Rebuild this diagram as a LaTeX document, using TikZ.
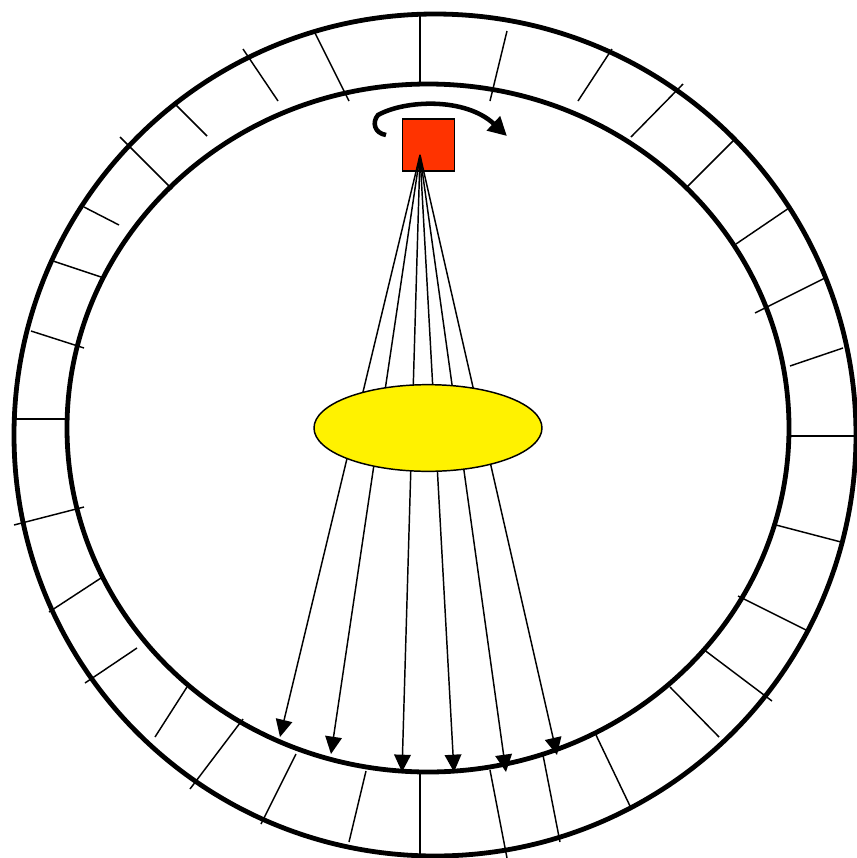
\documentclass[tikz,border=0pt]{standalone}
\usepackage{xcolor}
\usetikzlibrary{shapes.geometric, arrows.meta}

\definecolor{camred}{RGB}{255,51,0}
\definecolor{camtop}{RGB}{255,128,96}

\begin{document}
\begin{tikzpicture}[
  x=0.75pt, y=-0.75pt,
  ring/.style={line width=3.6pt},
  spoke/.style={line width=1.5pt},
  tick/.style={line width=1.1pt},
  ray/.style={line width=1.1pt, -{Triangle[length=13pt, width=12.5pt]}},
  spin/.style={line width=3.4pt, -{Triangle[length=14pt, width=14pt]}},
  camera/.style={draw, line width=1.1pt, cylinder, shape border rotate=90, aspect=0.55,
    cylinder uses custom fill, cylinder body fill=camred, cylinder end fill=camtop,
    minimum width=39pt, minimum height=39pt, inner sep=0pt},
  patient/.style={draw, line width=1.1pt, ellipse, fill=yellow, minimum width=171pt, minimum height=65pt, inner sep=0pt}
]

\useasboundingbox (0,0) rectangle (857,858);

\draw[ring] (435,435) circle [radius=421];
\draw[ring] (428,428) ellipse [x radius=361, y radius=344];

\foreach \xa/\ya/\xb/\yb in {
  507/31/490/101, 612/49/578/101, 683/84/631/137, 734/140/685/189,
  789/208/736/244, 825/278/755/313, 843/348/790/366, 776/525/841/542,
  738/596/806/630, 703/649/772/701, 670/687/719/737, 596/735/630/806,
  543/755/560/842, 490/770/507/858, 366/771/349/842, 296/754/261/824,
  243/719/190/789, 187/687/155/737, 137/648/85/683, 101/578/49/612,
  84/507/14/525, 84/348/31/331, 101/277/53/261, 119/225/84/207,
  172/189/120/137, 207/136/175/104, 278/101/243/49, 349/101/314/31}
  \draw[tick] (\xa,\ya) -- (\xb,\yb);

\draw[spoke] (420,14) -- (420,84);
\draw[spoke] (789,436) -- (855,436);
\draw[spoke] (420,772) -- (420,855);
\draw[spoke] (14,419) -- (67,419);

\node[camera] (cam) at (428.5,145.5) {};
\coordinate (spinstart) at (386,135);
\coordinate (spinend) at (507,136);
\draw[spin] (spinstart) .. controls (374,133) and (372,122) .. (378,115)
  .. controls (405,100) and (465,97) .. (spinend);

\coordinate (src) at (420,155);
\foreach \n/\tipx/\tipy in {a/280/737, b/331/754, c/402/772, d/454/772, e/506/772, f/557/755} {
  \coordinate (tip\n) at (\tipx,\tipy);
  \draw[ray] (src) -- (tip\n);
}

\node[patient] (body) at (428,428) {};

\end{tikzpicture}
\end{document}
